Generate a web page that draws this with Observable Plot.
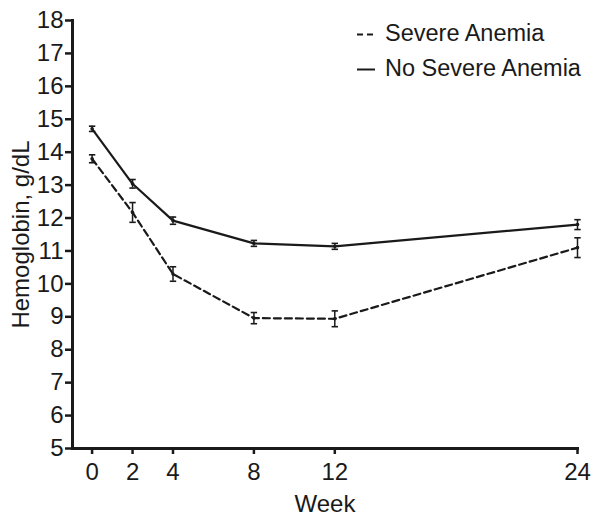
<!DOCTYPE html>
<html><head><meta charset="utf-8">
<script src="https://cdn.jsdelivr.net/npm/d3@7"></script>
<script src="https://cdn.jsdelivr.net/npm/@observablehq/plot@0.6"></script>
<style>
body{margin:0;background:#fff;font-family:"Liberation Sans",Arial,sans-serif;}
#wrap{position:relative;width:602px;height:523px;}
.leg{position:absolute;left:357px;font-size:23.5px;line-height:23px;height:23px;color:#1a1a1a;white-space:nowrap;}
.leg svg{vertical-align:top;margin-right:10px;}
</style></head><body><div id="wrap"></div>
<script>
const weeks = [0, 2, 4, 8, 12, 24];
const severeMean = [13.8, 12.17, 10.3, 8.96, 8.94, 11.1];
const severeErr = [0.12, 0.3, 0.22, 0.17, 0.24, 0.3];
const noSevereMean = [14.71, 13.04, 11.92, 11.23, 11.14, 11.8];
const noSevereErr = [0.08, 0.13, 0.11, 0.09, 0.09, 0.15];
const seriesNames = ["Severe Anemia", "No Severe Anemia"];
const yTicks = [5, 6, 7, 8, 9, 10, 11, 12, 13, 14, 15, 16, 17, 18];
const xTicks = [0, 2, 4, 8, 12, 24];

const ink = "#1a1a1a";
const severe = weeks.map((w, i) => ({week: w, value: severeMean[i], err: severeErr[i], series: seriesNames[0]}));
const noSevere = weeks.map((w, i) => ({week: w, value: noSevereMean[i], err: noSevereErr[i], series: seriesNames[1]}));
const rows = severe.concat(noSevere);

const cap = {draw(ctx, size) { const r = Math.sqrt(size / Math.PI); ctx.moveTo(-r, 0); ctx.lineTo(r, 0); }};

const chart = Plot.plot({
  width: 602,
  height: 523,
  marginLeft: 72,
  marginRight: 25,
  marginTop: 20,
  marginBottom: 75,
  style: {fontFamily: "Liberation Sans, Arial, sans-serif", color: ink, background: "#fff"},
  x: {domain: [0, 24], insetLeft: 19.6},
  y: {domain: [5, 18]},
  marks: [
    Plot.axisY({ticks: yTicks, tickSize: 7, tickPadding: 2, fontSize: 24, strokeWidth: 2.5,
      label: "Hemoglobin, g/dL", labelAnchor: "center", labelArrow: "none", labelOffset: 61}),
    Plot.axisX({ticks: xTicks, tickSize: 6, tickPadding: 8, fontSize: 24, strokeWidth: 2.5,
      label: "Week", labelAnchor: "center", labelArrow: "none", labelOffset: 63}),
    Plot.frame({anchor: "left", strokeWidth: 3, stroke: ink}),
    Plot.frame({anchor: "bottom", strokeWidth: 3, stroke: ink}),
    Plot.line(severe, {x: "week", y: "value", stroke: ink, strokeWidth: 2.2, strokeDasharray: "7,4"}),
    Plot.line(noSevere, {x: "week", y: "value", stroke: ink, strokeWidth: 2.2}),
    Plot.ruleX(rows, {x: "week", y1: d => d.value - d.err, y2: d => d.value + d.err, stroke: ink, strokeWidth: 1.5}),
    Plot.dot(rows, {x: "week", y: d => d.value - d.err, symbol: cap, r: 3.2, stroke: ink, fill: "none", strokeWidth: 1.6}),
    Plot.dot(rows, {x: "week", y: d => d.value + d.err, symbol: cap, r: 3.2, stroke: ink, fill: "none", strokeWidth: 1.6}),
    Plot.dot(rows, {x: "week", y: "value", r: 1.8, fill: ink})
  ]
});
const wrap = document.getElementById("wrap");
wrap.appendChild(chart);

const legendTops = [22, 57];
seriesNames.forEach((name, i) => {
  const d = document.createElement("div");
  d.className = "leg";
  d.style.top = legendTops[i] + "px";
  const dash = i === 0 ? ' stroke-dasharray="6,4"' : '';
  d.innerHTML = `<svg width="18" height="23"><line x1="0" x2="18" y1="12.5" y2="12.5" stroke="${ink}" stroke-width="2"${dash}/></svg>` + name;
  wrap.appendChild(d);
});
</script>
</body></html>
